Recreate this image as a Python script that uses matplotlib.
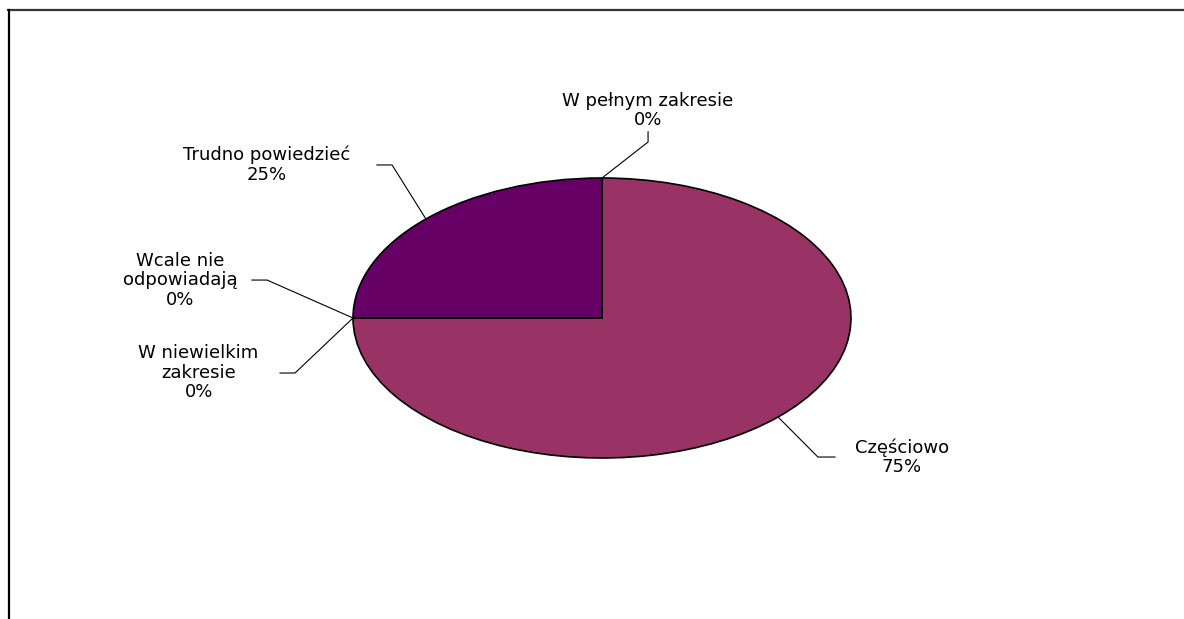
import numpy as np
import matplotlib
matplotlib.use("Agg")
import matplotlib.pyplot as plt
from matplotlib.lines import Line2D

# --- data ---
labels = ["W pełnym zakresie", "Częściowo", "W niewielkim zakresie",
          "Wcale nie odpowiadają", "Trudno powiedzieć"]
label_text = ["W pełnym zakresie", "Częściowo", "W niewielkim\nzakresie",
              "Wcale nie\nodpowiadają", "Trudno powiedzieć"]
values = [0, 75, 0, 0, 25]
colors = ["#FFFFFF", "#993366", "#FFFFCC", "#CCFFFF", "#660066"]

# --- layout for labels (data units, radius 1 = pie edge) ---
# text centre, elbow point, end point of leader (next to text)
text_pos = [(0.185, 1.48), (1.205, -0.995), (-1.62, -0.39), (-1.695, 0.27), (-1.345, 1.095)]
elbow_pos = [(0.185, 1.257), (0.867, -0.993), (-1.233, -0.393), (-1.345, 0.271), (-0.843, 1.093)]
end_pos = [(0.185, 1.33), (0.936, -0.993), (-1.293, -0.393), (-1.406, 0.271), (-0.904, 1.093)]

plt.rcParams['font.family'] = ['DejaVu Sans']

fig = plt.figure(figsize=(11.84, 6.19), dpi=100)
ax = fig.add_axes([0, 0, 1, 1])

cx, cy, rx, ry = 602, 318, 249, 140
W, H = 1184, 619

wedges, _ = ax.pie(values, colors=colors, startangle=90, counterclock=False,
                   wedgeprops=dict(edgecolor="black", linewidth=1.2))
for w, v in zip(wedges, values):
    if v == 0:
        w.set_visible(False)

ax.set_aspect('auto')
ax.set_xlim(-cx / rx, (W - cx) / rx)
ax.set_ylim(-(H - cy) / ry, cy / ry)
ax.axis('off')

# labels with leader lines
total = sum(values)
angle = 90.0
for i, v in enumerate(values):
    span = 360.0 * v / total
    mid = np.deg2rad(angle - span / 2)
    angle -= span
    px, py = np.cos(mid), np.sin(mid)
    ex, ey = elbow_pos[i]
    tx, ty = end_pos[i]
    ax.plot([px, ex, tx], [py, ey, ty], color="black", linewidth=0.8, clip_on=False)
    ax.text(text_pos[i][0], text_pos[i][1], f"{label_text[i]}\n{v}%",
            ha="center", va="center", multialignment="center",
            fontsize=13, linespacing=1.1, color="black")

# outer frame (top and left edges)
fig.add_artist(Line2D([8 / W, 1.0], [1 - 10 / H, 1 - 10 / H], color="#333333", linewidth=1.6))
fig.add_artist(Line2D([8.5 / W, 8.5 / W], [0, 1 - 10 / H], color="black", linewidth=1.6))

fig.savefig("out.png", dpi=100, facecolor="white")
